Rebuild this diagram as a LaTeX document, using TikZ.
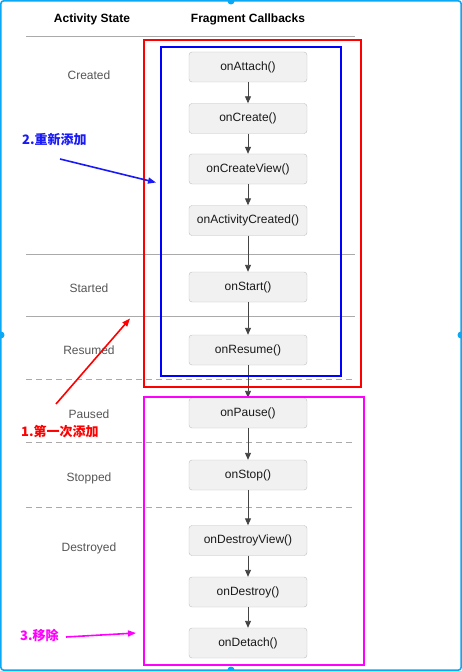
\documentclass[tikz,border=0pt]{standalone}
\usepackage{fontspec}
\setmainfont{Liberation Sans}
\newfontfamily\cjk{Noto Sans CJK SC}
\usetikzlibrary{arrows.meta}
\definecolor{frameblue}{HTML}{0AA8F5}
\definecolor{boxfill}{HTML}{F1F1F1}
\definecolor{boxline}{HTML}{BEBEBE}
\definecolor{statetext}{HTML}{555555}
\definecolor{sepline}{HTML}{AAAAAA}
\definecolor{arrowgray}{HTML}{444444}
\definecolor{annblue}{HTML}{1A1AF5}
\definecolor{annmag}{HTML}{FF00FF}
\tikzset{
  cb/.style={draw=boxline, fill=boxfill, rounded corners=3pt, minimum width=118pt, minimum height=30pt, inner sep=0pt, text=black!90, font=\fontsize{12}{14}\selectfont},
  st/.style={text=statetext, font=\fontsize{12}{14}\selectfont, inner sep=0pt},
  hd/.style={font=\bfseries\fontsize{12}{14}\selectfont, inner sep=0pt},
  sep/.style={draw=sepline, line width=0.8pt},
  dsep/.style={draw=sepline, line width=0.8pt, dash pattern=on 6pt off 4pt},
  flow/.style={draw=arrowgray, line width=0.9pt, -{Triangle[length=7pt,width=6pt]}},
  ann/.style={font=\cjk\bfseries\fontsize{13}{15}\selectfont, inner sep=0pt, anchor=west},
  annarrow/.style={line width=1.6pt, -{Triangle[length=8pt,width=6pt]}}
}
\begin{document}
\begin{tikzpicture}[x=1pt,y=-1pt]
\useasboundingbox (0,0) rectangle (462,671);
% outer selection frame
\draw[frameblue, line width=1.6pt, rounded corners=3pt] (0.8,0.8) rectangle (461.2,670.2);
\fill[frameblue] (231,1) circle (3.5pt);
\fill[frameblue] (231,670) circle (3.5pt);
\fill[frameblue] (1,335) circle (3.5pt);
\fill[frameblue] (461,335) circle (3.5pt);

% headers
\node[hd] (hstate) at (92,19) {Activity State};
\node[hd] (hcb) at (248,19) {Fragment Callbacks};

% separators
\coordinate (s0l) at (26,36);  \coordinate (s0r) at (355,36);
\coordinate (s1l) at (26,254); \coordinate (s1r) at (355,254);
\coordinate (s2l) at (26,316); \coordinate (s2r) at (355,316);
\coordinate (s3l) at (26,379); \coordinate (s3r) at (352,379);
\coordinate (s4l) at (26,442); \coordinate (s4r) at (352,442);
\coordinate (s5l) at (26,507); \coordinate (s5r) at (352,507);
\draw[sep] (s0l) -- (s0r);
\draw[sep] (s1l) -- (s1r);
\draw[sep] (s2l) -- (s2r);
\draw[dsep] (s3l) -- (s3r);
\draw[dsep] (s4l) -- (s4r);
\draw[dsep] (s5l) -- (s5r);

% state labels
\node[st] (created) at (89,75) {Created};
\node[st] (started) at (89,288) {Started};
\node[st] (resumed) at (89,350) {Resumed};
\node[st] (paused) at (89,414) {Paused};
\node[st] (stopped) at (89,478) {Stopped};
\node[st] (destroyed) at (89,548) {Destroyed};

% callbacks
\node[cb] (attach) at (248,67) {onAttach()};
\node[cb] (create) at (248,118.5) {onCreate()};
\node[cb] (createview) at (248,169) {onCreateView()};
\node[cb] (actcreated) at (248,220.5) {onActivityCreated()};
\node[cb] (start) at (248,287) {onStart()};
\node[cb] (resume) at (248,350) {onResume()};
\node[cb] (pause) at (248,413) {onPause()};
\node[cb] (stop) at (248,475) {onStop()};
\node[cb] (destroyview) at (248,540.5) {onDestroyView()};
\node[cb] (destroy) at (248,592) {onDestroy()};
\node[cb] (detach) at (248,643) {onDetach()};

\draw[flow] (attach) -- (create);
\draw[flow] (create) -- (createview);
\draw[flow] (createview) -- (actcreated);
\draw[flow] (actcreated) -- (start);
\draw[flow] (start) -- (resume);
\draw[flow] (resume) -- (pause);
\draw[flow] (pause) -- (stop);
\draw[flow] (stop) -- (destroyview);
\draw[flow] (destroyview) -- (destroy);
\draw[flow] (destroy) -- (detach);

% highlight boxes
\draw[red, line width=2pt] (144,40.5) rectangle (361,387);
\draw[blue, line width=2pt] (161,47.5) rectangle (341,376);
\draw[annmag, line width=2pt] (143.5,396.5) rectangle (364,665);

% annotations
\node[ann, text=annblue] (a2) at (22,140) {2.重新添加};
\coordinate (a2s) at (60,159);
\coordinate (a2e) at (156,182.5);
\draw[annarrow, annblue] (a2s) -- (a2e);

\node[ann, text=red] (a1) at (21,432) {1.第一次添加};
\coordinate (a1s) at (56,404);
\coordinate (a1e) at (130,318.5);
\draw[annarrow, red] (a1s) -- (a1e);

\node[ann, text=annmag] (a3) at (20,635) {3.移除};
\coordinate (a3s) at (66,637);
\coordinate (a3e) at (136,633);
\draw[annarrow, annmag] (a3s) -- (a3e);
\end{tikzpicture}
\end{document}
